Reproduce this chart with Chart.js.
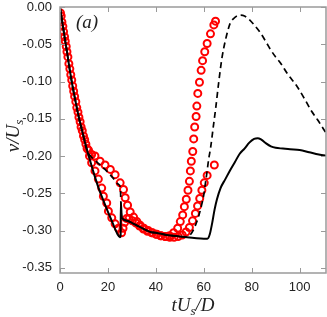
<!DOCTYPE html>
<html>
<head>
<meta charset="utf-8">
<script src="https://cdn.jsdelivr.net/npm/chart.js@4.4.1/dist/chart.umd.min.js"></script>
<style>
  body { margin: 0; background: #fff; }
  #wrap { width: 327px; height: 317px; position: relative; }
</style>
</head>
<body>
<div id="wrap"><canvas id="grafico"></canvas></div>
<script>
// ===== datos =====
const xTicks = [0, 20, 40, 60, 80, 100];
const yTicks = [0, -0.05, -0.10, -0.15, -0.20, -0.25, -0.30, -0.35];

// linea continua
const solidX = [0,1,2,3,4,5,6,7,8,9,10,11,12,14,16,18,20,22,23,24,25,25.3,25.4,25.8,28,30.7,35,37.7,40,44.6,50,53,56,60,61.5,62.5,63.5,64.5,65.5,67,69,71,73,75,77,79,81,82.5,84,86,88,90,93,96,100,104,108,112];
const solidY = [0,-0.021,-0.042,-0.062,-0.083,-0.102,-0.119,-0.135,-0.150,-0.163,-0.176,-0.189,-0.200,-0.222,-0.242,-0.259,-0.275,-0.290,-0.298,-0.305,-0.309,-0.307,-0.262,-0.283,-0.287,-0.291,-0.298,-0.302,-0.303,-0.306,-0.308,-0.309,-0.310,-0.311,-0.311,-0.305,-0.290,-0.272,-0.258,-0.243,-0.231,-0.219,-0.208,-0.197,-0.190,-0.182,-0.177,-0.176,-0.178,-0.183,-0.187,-0.189,-0.190,-0.191,-0.192,-0.195,-0.198,-0.200];

// linea discontinua
const dashX = [0,1,2,3,4,5,6,7,8,9,10,11,12,13,14,16,18.8,22,24.4,25.2,25.5,26,28,30.7,35,37.7,40,44.6,50,53,54,55,56,57,58,59,60,60.7,61.4,62,62.8,64,65,66.2,67.5,69,71,73,75,77,79,81,83.7,86,88,90,92,95,99,102,105,107.4,110,112];
const dashY = [0,-0.021,-0.042,-0.062,-0.083,-0.102,-0.119,-0.135,-0.150,-0.163,-0.176,-0.189,-0.197,-0.201,-0.204,-0.210,-0.218,-0.229,-0.238,-0.243,-0.275,-0.283,-0.287,-0.291,-0.298,-0.302,-0.303,-0.306,-0.308,-0.309,-0.307,-0.303,-0.297,-0.289,-0.279,-0.267,-0.252,-0.236,-0.220,-0.205,-0.190,-0.160,-0.135,-0.102,-0.070,-0.045,-0.022,-0.014,-0.011,-0.012,-0.017,-0.024,-0.035,-0.047,-0.058,-0.067,-0.075,-0.090,-0.107,-0.123,-0.140,-0.151,-0.164,-0.174];

// circulos rojos, serie A (rama superior)
const circAX = [0.2,0.8,1.5,2.2,2.9,3.7,4.5,5.3,6.1,7.0,7.9,8.8,9.8,10.8,11.9,13.2,14.6,16.7,18.8,21.0,23.0,25.1,26.5,27.2,28.2,29.3,30.7,32.1,33.5,35.0,36.8,38.6,40.4,42.2,44.0,45.7,47.4,49.1,50.2,51.2,51.9,52.7,53.4,54.0,54.4,54.8,55.4,55.8,56.2,56.8,57.1,57.5,58.2,58.9,59.5,60.4,61.4,62.8,64.2,64.9];
const circAY = [-0.008,-0.020,-0.033,-0.046,-0.060,-0.076,-0.091,-0.106,-0.120,-0.135,-0.148,-0.161,-0.173,-0.184,-0.192,-0.198,-0.200,-0.207,-0.212,-0.218,-0.225,-0.236,-0.245,-0.256,-0.266,-0.275,-0.282,-0.288,-0.293,-0.297,-0.300,-0.303,-0.305,-0.307,-0.308,-0.307,-0.303,-0.297,-0.288,-0.279,-0.268,-0.258,-0.246,-0.234,-0.220,-0.207,-0.194,-0.177,-0.161,-0.147,-0.133,-0.116,-0.101,-0.085,-0.072,-0.060,-0.049,-0.036,-0.024,-0.019];

// circulos rojos, serie B (rama inferior)
const circBX = [0.5,1.2,1.9,2.6,3.3,4.1,4.9,5.7,6.6,7.5,8.4,9.3,10.3,11.3,12.3,13.2,14.6,16.0,17.4,18.1,19.5,20.2,21.6,23.0,24.4,25.7,26.3,27.0,27.8,28.8,30.2,31.7,33.2,34.8,36.5,38.3,40.1,42.0,43.9,45.8,47.6,49.3,51.0,52.6,54.0,55.3,56.5,57.4,58.3,59.2,60.2,61.4,64.4];
const circBY = [-0.012,-0.026,-0.040,-0.053,-0.067,-0.083,-0.098,-0.113,-0.127,-0.141,-0.154,-0.166,-0.178,-0.190,-0.200,-0.209,-0.220,-0.231,-0.243,-0.254,-0.263,-0.274,-0.283,-0.291,-0.297,-0.303,-0.297,-0.289,-0.284,-0.284,-0.287,-0.290,-0.294,-0.298,-0.301,-0.303,-0.305,-0.307,-0.308,-0.309,-0.309,-0.308,-0.306,-0.302,-0.296,-0.287,-0.277,-0.267,-0.257,-0.246,-0.236,-0.226,-0.212];

function pares(xs, ys){
  return xs.map((x, i) => ({ x: x, y: ys[i] }));
}

// texto matematico con subindices: partes = [[texto, esSub], ...]
function textoMat(ctx, partes, size){
  const fBase = 'italic ' + size + 'px "Liberation Serif", "DejaVu Serif", serif';
  const fSub  = 'italic ' + Math.round(size*0.7) + 'px "Liberation Serif", "DejaVu Serif", serif';
  let total = 0;
  partes.forEach(p => { ctx.font = p[1] ? fSub : fBase; total += ctx.measureText(p[0]).width; });
  let x = -total/2;
  partes.forEach(p => {
    ctx.font = p[1] ? fSub : fBase;
    ctx.fillText(p[0], x, p[1] ? size*0.22 : 0);
    x += ctx.measureText(p[0]).width;
  });
}

const marco = {
  id: 'marco',
  afterDraw(chart){
    const ctx = chart.ctx;
    const a = chart.chartArea;
    const sx = chart.scales.x, sy = chart.scales.y;
    ctx.save();
    ctx.strokeStyle = '#9a9a9a';
    ctx.lineWidth = 1.5;
    ctx.strokeRect(a.left, a.top, a.right - a.left, a.bottom - a.top);
    ctx.lineWidth = 1;
    xTicks.forEach(v => {
      const px = Math.round(sx.getPixelForValue(v)) + 0.5;
      ctx.beginPath();
      ctx.moveTo(px, a.bottom); ctx.lineTo(px, a.bottom - 5);
      ctx.moveTo(px, a.top); ctx.lineTo(px, a.top + 5);
      ctx.stroke();
    });
    yTicks.forEach(v => {
      const py = Math.round(sy.getPixelForValue(v)) + 0.5;
      ctx.beginPath();
      ctx.moveTo(a.left, py); ctx.lineTo(a.left + 5, py);
      ctx.moveTo(a.right, py); ctx.lineTo(a.right - 5, py);
      ctx.stroke();
    });
    // etiquetas de ejes
    ctx.fillStyle = '#222';
    ctx.textBaseline = 'alphabetic';
    ctx.textAlign = 'left';
    ctx.save();
    ctx.translate((a.left + a.right)/2, 311);
    textoMat(ctx, [['tU', false], ['s', true], ['/D', false]], 19);
    ctx.restore();
    ctx.save();
    ctx.translate(19, (a.top + a.bottom)/2 - 4);
    ctx.rotate(-Math.PI/2);
    textoMat(ctx, [['v/U', false], ['s', true]], 19);
    ctx.restore();
    ctx.font = 'italic 19px "Liberation Serif", "DejaVu Serif", serif';
    ctx.fillText('(a)', 76, 28);
    ctx.restore();
  }
};

const fuenteTicks = { family: '"Liberation Sans", Arial, sans-serif', size: 13 };

function sinRelleno(s){
  s.paddingLeft = 0; s.paddingRight = 0; s.paddingTop = 0; s.paddingBottom = 0;
}

new Chart(document.getElementById('grafico'), {
  type: 'scatter',
  data: {
    datasets: [
      {
        label: 'continua',
        data: pares(solidX, solidY),
        showLine: true,
        borderColor: '#000',
        borderWidth: 2,
        pointRadius: 0,
        cubicInterpolationMode: 'monotone',
        order: 0
      },
      {
        label: 'discontinua',
        data: pares(dashX, dashY),
        showLine: true,
        borderColor: '#000',
        borderWidth: 1.7,
        borderDash: [6, 4],
        pointRadius: 0,
        cubicInterpolationMode: 'monotone',
        order: 0
      },
      {
        label: 'A',
        data: pares(circAX, circAY),
        showLine: false,
        pointStyle: 'circle',
        pointRadius: 3.5,
        pointBorderWidth: 2,
        pointBorderColor: '#ff0000',
        pointBackgroundColor: 'rgba(0,0,0,0)',
        order: 1
      },
      {
        label: 'B',
        data: pares(circBX, circBY),
        showLine: false,
        pointStyle: 'circle',
        pointRadius: 3.5,
        pointBorderWidth: 2,
        pointBorderColor: '#ff0000',
        pointBackgroundColor: 'rgba(0,0,0,0)',
        order: 1
      }
    ]
  },
  options: {
    responsive: true,
    maintainAspectRatio: false,
    animation: false,
    layout: { autoPadding: false, padding: { top: 7, right: 1, left: 0, bottom: 0 } },
    plugins: { legend: { display: false }, tooltip: { enabled: false } },
    scales: {
      x: {
        type: 'linear', min: 0, max: 111,
        grid: { display: false, drawTicks: false },
        border: { display: false },
        ticks: {
          stepSize: 20, includeBounds: false, padding: 7,
          color: '#222', font: fuenteTicks, maxRotation: 0
        },
        afterFit(s){ s.height = 44; sinRelleno(s); }
      },
      y: {
        type: 'linear', min: -0.357, max: 0,
        grid: { display: false, drawTicks: false },
        border: { display: false },
        ticks: {
          stepSize: 0.05, includeBounds: false, padding: 8,
          color: '#222', font: fuenteTicks,
          callback: v => (Math.abs(v) < 1e-9 ? 0 : v).toFixed(2)
        },
        afterFit(s){ s.width = 60; sinRelleno(s); }
      }
    }
  },
  plugins: [marco]
});
</script>
</body>
</html>
